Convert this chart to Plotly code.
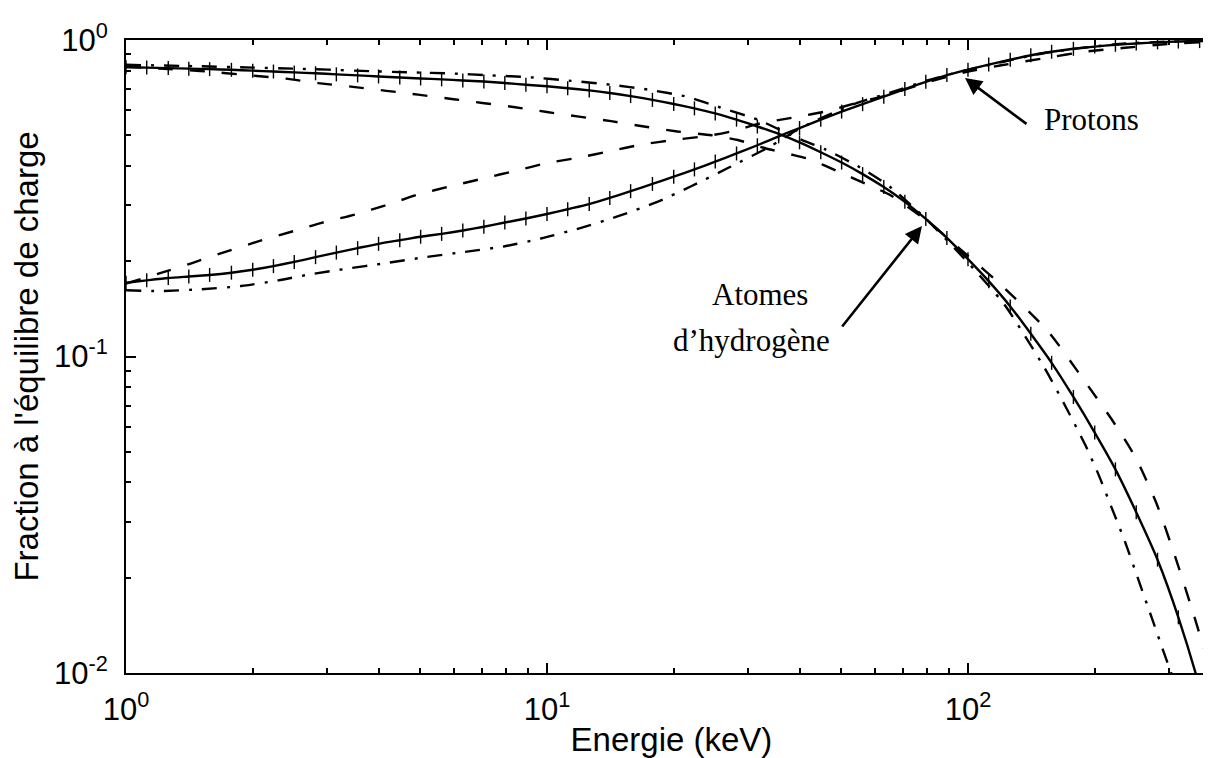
import plotly.graph_objects as go

# ---------------- data ----------------
energy_grid = [1.00, 1.12, 1.26, 1.41, 1.58, 1.78, 2.00, 2.24, 2.51, 2.82, 3.16, 3.55, 3.98,
               4.47, 5.01, 5.62, 6.31, 7.08, 7.94, 8.91, 10.0, 11.2, 12.6, 14.1, 15.8, 17.8,
               20.0, 22.4, 25.1, 28.2, 31.6, 35.5, 39.8, 44.7, 50.1, 56.2, 63.1, 70.8, 79.4,
               89.1, 100, 112, 126, 141, 158, 178, 200, 224, 251, 282, 316, 355, 398]

protons_solid = [0.171, 0.174, 0.177, 0.179, 0.181, 0.184, 0.188, 0.193, 0.199, 0.206, 0.213,
                 0.220, 0.227, 0.233, 0.239, 0.244, 0.250, 0.257, 0.265, 0.273, 0.282, 0.292,
                 0.303, 0.317, 0.333, 0.351, 0.370, 0.390, 0.413, 0.438, 0.465, 0.496, 0.527,
                 0.560, 0.594, 0.627, 0.662, 0.700, 0.738, 0.775, 0.806, 0.836, 0.866, 0.895,
                 0.918, 0.938, 0.953, 0.966, 0.975, 0.983, 0.989, 0.992, 0.995]

hydrogen_solid = [0.820, 0.818, 0.815, 0.812, 0.809, 0.805, 0.800, 0.795, 0.790, 0.785, 0.779,
                  0.773, 0.767, 0.761, 0.756, 0.751, 0.745, 0.739, 0.731, 0.722, 0.714, 0.704,
                  0.693, 0.680, 0.665, 0.647, 0.628, 0.608, 0.586, 0.560, 0.533, 0.505, 0.475,
                  0.442, 0.410, 0.377, 0.343, 0.308, 0.272, 0.237, 0.203, 0.173, 0.144, 0.118,
                  0.0955, 0.0745, 0.0575, 0.0440, 0.0322, 0.0228, 0.0150, 0.0090, 0.0048]

energy_p_dash = [1.0, 1.2, 1.43, 1.7, 2.06, 2.5, 2.9, 3.5, 4.19, 4.94, 5.9, 7.1, 8.4, 10.05,
                 11.8, 14.2, 16.7, 20.2, 24.6, 28.4, 31.7, 38.8, 46.5, 54.8, 65, 80, 100, 120,
                 155, 190, 236, 300, 400]
protons_dash = [0.170, 0.183, 0.197, 0.213, 0.231, 0.249, 0.264, 0.281, 0.302, 0.325, 0.345,
                0.366, 0.386, 0.409, 0.424, 0.446, 0.467, 0.484, 0.500, 0.520, 0.543, 0.570,
                0.597, 0.635, 0.672, 0.735, 0.795, 0.832, 0.880, 0.919, 0.945, 0.972, 0.990]

energy_h_dash = [1.0, 1.2, 1.5, 2.0, 2.4, 2.86, 3.5, 4.94, 6.0, 8.4, 10.0, 14.2, 17.0, 20.4,
                 24.6, 28.4, 33, 38, 42, 49, 58, 65, 80, 100, 120, 155, 190, 220, 250, 280,
                 310, 340, 372, 400]
hydrogen_dash = [0.825, 0.812, 0.798, 0.772, 0.755, 0.731, 0.710, 0.672, 0.650, 0.613, 0.592,
                 0.554, 0.533, 0.514, 0.500, 0.483, 0.455, 0.435, 0.420, 0.385, 0.348, 0.325,
                 0.268, 0.208, 0.168, 0.120, 0.083, 0.063, 0.048, 0.0345, 0.0235, 0.0160,
                 0.0108, 0.0075]

energy_p_dashdot = [1.0, 1.2, 1.5, 1.88, 2.3, 2.75, 3.31, 4.12, 5.13, 6.38, 7.94, 9.68, 12.05,
                    14.7, 18.4, 22, 26.9, 34, 38.8, 43.3, 49, 55, 65, 80, 100, 122, 152, 190,
                    236, 300, 400]
protons_dashdot = [0.162, 0.161, 0.163, 0.167, 0.174, 0.182, 0.189, 0.197, 0.206, 0.214, 0.223,
                   0.236, 0.255, 0.277, 0.309, 0.345, 0.394, 0.462, 0.515, 0.555, 0.597, 0.635,
                   0.680, 0.745, 0.805, 0.855, 0.910, 0.947, 0.975, 0.988, 0.996]

energy_h_dashdot = [1.0, 1.5, 2.0, 2.5, 3.02, 3.82, 4.75, 5.92, 7.36, 9.16, 11.4, 14.2, 17.4,
                    21.6, 25.8, 31.7, 36.7, 40, 45.7, 55, 65, 80, 100, 122, 152, 170, 190,
                    204, 219, 236, 253, 272, 294, 310, 330]
hydrogen_dashdot = [0.835, 0.826, 0.818, 0.812, 0.806, 0.797, 0.790, 0.784, 0.773, 0.762,
                    0.743, 0.722, 0.697, 0.661, 0.612, 0.560, 0.512, 0.485, 0.452, 0.398,
                    0.345, 0.270, 0.198, 0.146, 0.092, 0.070, 0.0525, 0.0425, 0.0335,
                    0.0260, 0.0200, 0.0152, 0.0113, 0.0093, 0.0074]

x_tick_vals = [1, 10, 100]
x_tick_text = ["10<sup>0</sup>", "10<sup>1</sup>", "10<sup>2</sup>"]
y_tick_vals = [0.01, 0.1, 1]
y_tick_text = ["10<sup>-2</sup>", "10<sup>-1</sup>", "10<sup>0</sup>"]
x_minor = [2, 3, 4, 5, 6, 7, 8, 9, 20, 30, 40, 50, 60, 70, 80, 90, 200, 300]
y_minor = [0.02, 0.03, 0.04, 0.05, 0.06, 0.07, 0.08, 0.09,
           0.2, 0.3, 0.4, 0.5, 0.6, 0.7, 0.8, 0.9]

# ---------------- figure ----------------
W, H = 1211, 758
ML, MR, MT, MB = 118, 2, 32, 93
PW, PH = W - ML - MR, H - MT - MB

def px(xp):
    return (xp - ML) / PW

def py(yp):
    return (H - MB - yp) / PH

fig = go.Figure()

dash_style = "15px,17px"
dashdot_style = "15px,10px,3px,10px"
lw = 2.4

for xs, ys, d in [(energy_p_dash, protons_dash, dash_style),
                  (energy_h_dash, hydrogen_dash, dash_style),
                  (energy_p_dashdot, protons_dashdot, dashdot_style),
                  (energy_h_dashdot, hydrogen_dashdot, dashdot_style)]:
    fig.add_trace(go.Scatter(x=xs, y=ys, mode="lines",
                             line=dict(color="black", width=lw, dash=d,
                                       shape="spline", smoothing=0.6),
                             showlegend=False, hoverinfo="skip"))

for ys in [protons_solid, hydrogen_solid]:
    fig.add_trace(go.Scatter(x=energy_grid, y=ys, mode="lines+markers",
                             line=dict(color="black", width=lw, shape="spline", smoothing=0.6),
                             marker=dict(symbol="line-ns", size=10,
                                         line=dict(width=1.4, color="black")),
                             showlegend=False, hoverinfo="skip"))

tick_font = dict(family="Liberation Sans, Arial, sans-serif", size=31, color="black")
title_font = dict(family="Liberation Sans, Arial, sans-serif", size=33, color="black")

fig.update_xaxes(type="log", range=[0, 2.5915], showline=True, linecolor="black", linewidth=2,
                 mirror="ticks", ticks="inside", ticklen=10, tickwidth=1.5, tickcolor="black",
                 tickvals=x_tick_vals, ticktext=x_tick_text, tickfont=tick_font,
                 ticklabelstandoff=8, showgrid=False, zeroline=False,
                 minor=dict(tickvals=x_minor, ticks="inside", ticklen=5, tickwidth=1.5,
                            tickcolor="black", showgrid=False),
                 title=dict(text="Energie (keV)", font=title_font, standoff=2))

fig.update_yaxes(type="log", range=[-2, 0], showline=True, linecolor="black", linewidth=2,
                 mirror="ticks", ticks="inside", ticklen=10, tickwidth=1.5, tickcolor="black",
                 tickvals=y_tick_vals, ticktext=y_tick_text, tickfont=tick_font,
                 ticklabelstandoff=10, showgrid=False, zeroline=False,
                 minor=dict(tickvals=y_minor, ticks="inside", ticklen=5, tickwidth=1.5,
                            tickcolor="black", showgrid=False),
                 title=dict(text="Fraction à l'équilibre de charge", font=title_font,
                            standoff=20))

serif = dict(family="Liberation Serif, Times New Roman, serif", size=31, color="black")

annotations = [
    dict(xref="paper", yref="paper", x=px(1083), y=py(111), text="Protons",
         showarrow=False, font=serif, xanchor="center", yanchor="middle"),
    dict(xref="paper", yref="paper", x=px(752), y=py(286), text="Atomes",
         showarrow=False, font=serif, xanchor="center", yanchor="middle"),
    dict(xref="paper", yref="paper", x=px(743), y=py(333), text="d’hydrogène",
         showarrow=False, font=serif, xanchor="center", yanchor="middle"),
    # arrows (tip position in axis log units, tail as pixel offset)
    dict(xref="x", yref="y", x=(957 - ML) / 421.0, y=-(70 - MT) / 316.5, text="",
         showarrow=True, arrowhead=2, arrowsize=1.3, arrowwidth=2.6,
         arrowcolor="black", ax=63, ay=47, standoff=0, startstandoff=0),
    dict(xref="x", yref="y", x=(914 - ML) / 421.0, y=-(218 - MT) / 316.5, text="",
         showarrow=True, arrowhead=2, arrowsize=1.3, arrowwidth=2.6,
         arrowcolor="black", ax=-81, ay=102, standoff=0, startstandoff=0),
]

fig.update_layout(width=W, height=H, margin=dict(l=ML, r=MR, t=MT, b=MB, autoexpand=False),
                  paper_bgcolor="white", plot_bgcolor="white", annotations=annotations,
                  showlegend=False)

fig.write_html("out.html")
